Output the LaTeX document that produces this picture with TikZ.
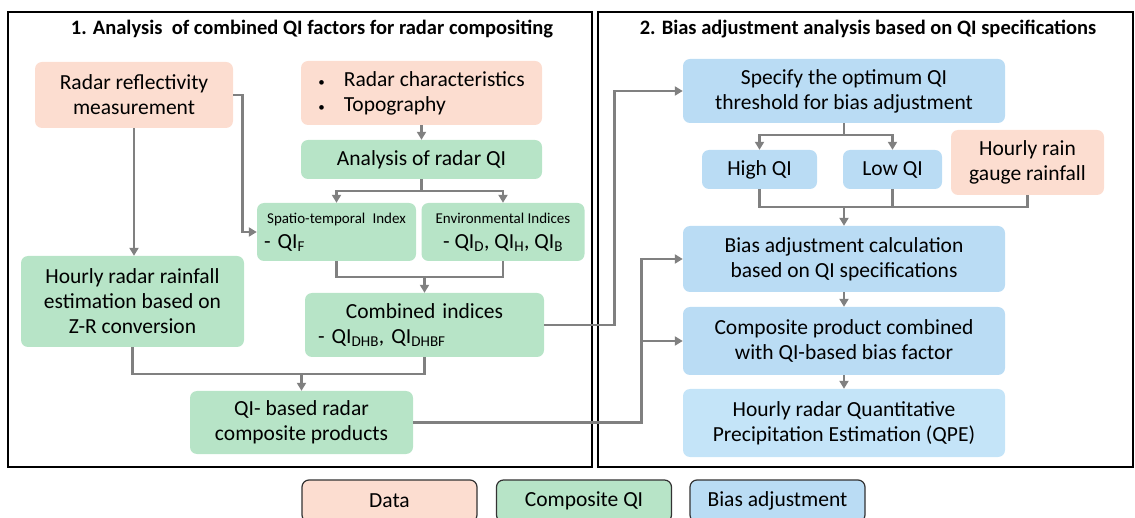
\documentclass[tikz,border=0pt]{standalone}
\usepackage{fontspec}
\setmainfont{Carlito}
\usetikzlibrary{arrows.meta,positioning,calc}

\definecolor{datafill}{HTML}{FCDDD0}
\definecolor{qifill}{HTML}{B7E4C7}
\definecolor{biasfill}{HTML}{BADCF4}
\definecolor{qpefill}{HTML}{C4E4F8}
\definecolor{linkgray}{HTML}{808080}

\newcommand{\smallbul}{{\fontsize{13}{13}\selectfont\textbullet}\hspace{19pt}}

\begin{document}
\begin{tikzpicture}[x=1pt, y=-1pt,
    every node/.style={font=\fontsize{21.5}{25}\selectfont, inner sep=0pt, align=center},
    box/.style={rectangle, rounded corners=7pt},
    data/.style={box, fill=datafill},
    cqi/.style={box, fill=qifill},
    bias/.style={box, fill=biasfill},
    panel/.style={draw=black, line width=2pt},
    link/.style={draw=linkgray, line width=2.6pt},
    arr/.style={link, -{Triangle[length=8pt,width=9pt]}},
    key/.style={box, draw=black!80, line width=1.2pt, minimum width=175pt, minimum height=42pt}
]
\useasboundingbox (0,0) rectangle (1135,518);

% the two panels
\draw[panel] (8,12) rectangle (592,467);
\draw[panel] (598,12) rectangle (1133,467);
\node[font=\fontsize{20.5}{24}\selectfont\bfseries] (t1) at (312,29) {1. Analysis\ \ of combined QI factors for radar compositing};
\node[font=\fontsize{20.5}{24}\selectfont\bfseries] (t2) at (868,29) {2. Bias adjustment analysis based on QI specifications};

% left panel
\node[data, minimum width=198pt, minimum height=66pt] (refl) at (134,95) {Radar reflectivity\\measurement};
\node[data, minimum width=241pt, minimum height=64pt, align=left] (char) at (421.5,93)
    {\smallbul Radar characteristics\\\smallbul Topography};
\node[cqi, minimum width=241pt, minimum height=39pt] (ana) at (421.5,159.5) {Analysis of radar QI};
\node[cqi, minimum width=159pt, minimum height=58pt, text width=145pt, align=left] (spt) at (336.5,232)
    {\makebox[145pt]{\fontsize{15}{17}\selectfont Spatio-temporal Index}\\- QI\textsubscript{F}};
\node[cqi, minimum width=163pt, minimum height=58pt] (env) at (503,232)
    {{\fontsize{15}{17}\selectfont Environmental Indices}\\- QI\textsubscript{D}, QI\textsubscript{H}, QI\textsubscript{B}};
\node[cqi, minimum width=223pt, minimum height=91pt] (hrr) at (132.5,301.5)
    {Hourly radar rainfall\\estimation based on\\Z-R conversion};
\node[cqi, minimum width=239pt, minimum height=64pt, text width=213pt, align=left] (comb) at (424.5,325)
    {\makebox[213pt]{Combined indices}\\- QI\textsubscript{DHB}, QI\textsubscript{DHBF}};
\node[cqi, minimum width=223pt, minimum height=63pt] (qib) at (301.5,422.5) {QI- based radar\\composite products};

% right panel
\node[bias, minimum width=322pt, minimum height=64pt] (spec) at (844,91) {Specify the optimum QI\\threshold for bias adjustment};
\node[bias, minimum width=115pt, minimum height=39pt] (high) at (759.5,169.5) {High QI};
\node[bias, minimum width=99pt, minimum height=39pt] (low) at (892.5,169.5) {Low QI};
\node[data, minimum width=153pt, minimum height=65pt] (gauge) at (1027.5,162.5) {Hourly rain\\gauge rainfall};
\node[bias, minimum width=322pt, minimum height=66pt] (bcal) at (844,259) {Bias adjustment calculation\\based on QI specifications};
\node[bias, minimum width=322pt, minimum height=68pt] (cprod) at (844,341) {Composite product combined\\with QI-based bias factor};
\node[box, fill=qpefill, minimum width=322pt, minimum height=68pt] (qpe) at (844,423) {Hourly radar Quantitative\\Precipitation Estimation (QPE)};

% junctions
\coordinate (j1) at (421.5,191);
\coordinate (j2) at (424.5,277);
\coordinate (j3) at (301.5,374);
\coordinate (j4) at (844,135);
\coordinate (j5) at (844,207);

% connectors, left
\draw[arr] (refl.south) -- (refl.south |- hrr.north);
\draw[arr] (refl.east) -- ++(9,0) |- (spt.west);
\draw[arr] (char) -- (ana);
\draw[link] (ana.south) -- (j1);
\draw[arr] (j1) -| (spt.north);
\draw[arr] (j1) -| (env.north);
\draw[link] (spt.south) |- (j2) -| (env.south);
\draw[arr] (j2) -- (comb.north);
\draw[link] (hrr.south) |- (j3) -| (comb.south);
\draw[arr] (j3) -- (qib.north);

% connectors across the panels
\draw[arr] (comb.east) -- ++(70,0) |- (spec.west);
\draw[arr] (qib.east) -- ++(228,0) |- (bcal.west);
\draw[arr] (qib.east) ++(228,0) |- (cprod.west);

% connectors, right
\draw[link] (spec.south) -- (j4);
\draw[arr] (j4) -| (high.north);
\draw[arr] (j4) -| (low.north);
\draw[link] (high.south) |- (j5) -| (gauge.south);
\draw[link] (low.south) -- (low.south |- j5);
\draw[arr] (j5) -- (bcal.north);
\draw[arr] (bcal) -- (cprod);
\draw[arr] (cprod) -- (qpe);

% legend
\node[key, fill=datafill] (k1) at (389.5,501) {Data};
\node[key, fill=qifill] (k2) at (584,501) {Composite QI};
\node[key, fill=biasfill] (k3) at (777.5,501) {Bias adjustment};
\end{tikzpicture}
\end{document}
